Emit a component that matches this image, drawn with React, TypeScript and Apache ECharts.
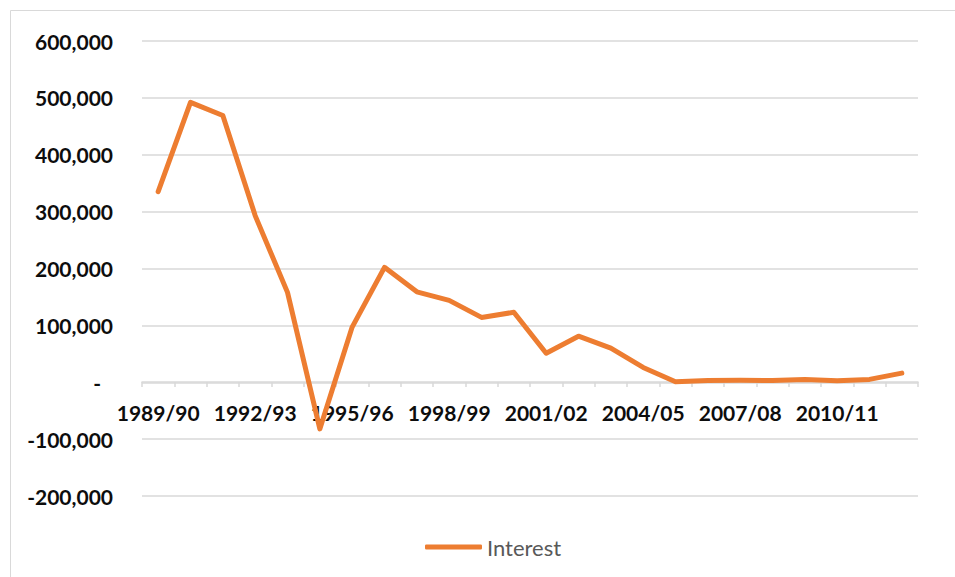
import React, { useEffect, useRef } from "react";
import * as echarts from "echarts";

const categories = [
  "1989/90", "1990/91", "1991/92", "1992/93", "1993/94", "1994/95", "1995/96", "1996/97",
  "1997/98", "1998/99", "1999/00", "2000/01", "2001/02", "2002/03", "2003/04", "2004/05",
  "2005/06", "2006/07", "2007/08", "2008/09", "2009/10", "2010/11", "2011/12", "2012/13",
];
const interest = [
  335000, 492000, 469000, 293000, 158000, -82000, 97000, 202000,
  159000, 144000, 114000, 123000, 51000, 81000, 60000, 26000,
  1000, 3000, 3500, 3000, 5000, 2500, 5000, 16000,
];
const seriesName = "Interest";

export default function App() {
  const ref = useRef<HTMLDivElement>(null);
  useEffect(() => {
    if (!ref.current) return;
    const chart = echarts.init(ref.current, null, { renderer: "svg" });
    chart.setOption({
      animation: false,
      backgroundColor: "#ffffff",
      textStyle: { fontFamily: "Lato" },
      graphic: [
        {
          type: "rect",
          shape: { x: 10.5, y: 10.5, width: 980, height: 620 },
          style: { fill: "none", stroke: "#d9d9d9", lineWidth: 1 },
          silent: true,
        },
      ],
      grid: { left: 142, right: 37, top: 41, bottom: 81, containLabel: false },
      legend: {
        bottom: 14,
        left: 420,
        icon: "roundRect",
        itemWidth: 57,
        itemHeight: 5,
        itemGap: 10,
        textStyle: { color: "#595959", fontSize: 22, fontFamily: "Lato" },
        data: [seriesName],
      },
      xAxis: {
        type: "category",
        data: categories,
        boundaryGap: true,
        position: "bottom",
        offset: -114,
        axisLine: { onZero: false, lineStyle: { color: "#d9d9d9", width: 1.5 } },
        axisTick: { show: true, interval: 0, length: 5, lineStyle: { color: "#d9d9d9", width: 1.5 } },
        axisLabel: {
          interval: 2,
          margin: 20,
          color: "#0d0d0d",
          fontSize: 21,
          fontWeight: "bold",
          fontFamily: "Lato",
        },
        splitLine: { show: false },
      },
      yAxis: {
        type: "value",
        min: -200000,
        max: 600000,
        interval: 100000,
        axisLine: { show: false },
        axisTick: { show: false },
        splitLine: { lineStyle: { color: "#d9d9d9", width: 1.5 } },
        axisLabel: {
          margin: 29,
          color: "#0d0d0d",
          fontSize: 21,
          fontWeight: "bold",
          fontFamily: "Lato",
          formatter: (v: number) =>
            v === 0 ? "{dash|-}" : v.toLocaleString("en-US"),
          rich: {
            dash: {
              padding: [0, 12, 0, 0],
              color: "#0d0d0d",
              fontSize: 21,
              fontWeight: "bold",
              fontFamily: "Lato",
            },
          },
        },
      },
      series: [
        {
          name: seriesName,
          type: "line",
          data: interest,
          symbol: "none",
          color: "#ED7D31",
          lineStyle: { width: 5, color: "#ED7D31", cap: "round", join: "round" },
        },
      ],
    });
    return () => chart.dispose();
  }, []);
  return (
    <div
      ref={ref}
      style={{ position: "fixed", left: 0, top: 0, width: 955, height: 577 }}
    />
  );
}
